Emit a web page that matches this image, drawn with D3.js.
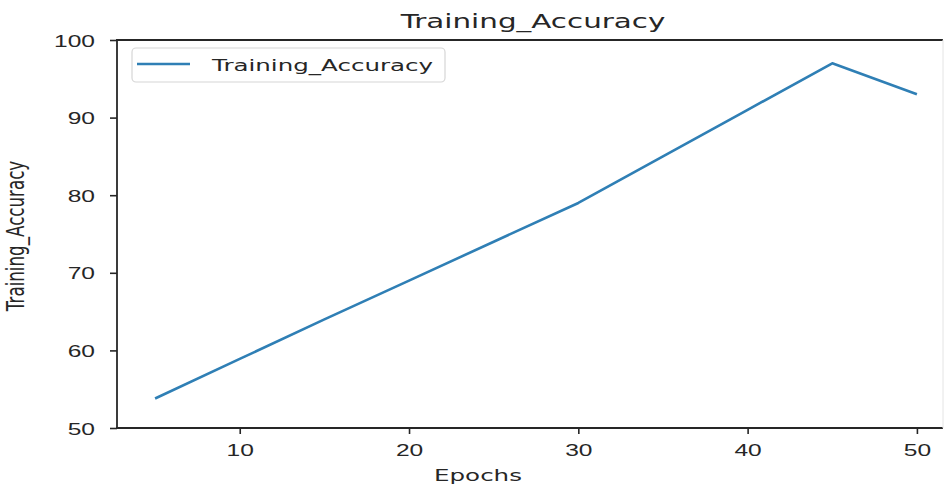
<!DOCTYPE html>
<html>
<head>
<meta charset="utf-8">
<script src="https://cdn.jsdelivr.net/npm/d3@7"></script>
<style>
  body { margin: 0; background: #fff; }
  svg { display: block; font-family: "DejaVu Sans", sans-serif; }
</style>
</head>
<body>
<svg id="chart" width="945" height="484"></svg>
<script>
// --- Data ---

const epochs = [5, 10, 15, 20, 25, 30, 35, 40, 45, 50];
const accuracy = [53.8, 58.9, 64.0, 69.0, 74.0, 79.0, 85.0, 91.0, 97.0, 93.0];
const xTicks = [10, 20, 30, 40, 50];
const yTicks = [50, 60, 70, 80, 90, 100];

// --- Layout ---

const SX = 1.47; // picture is stretched sideways
const TEXT = "#262626";
const LINE = "#2f7fb5";
const plotLeft = 117, plotRight = 955, plotTop = 40, plotBottom = 428;
const cutEdge = 942; // where the picture's right side was cropped

const svg = d3.select("#chart");

const x = d3.scaleLinear().domain([2.75, 52.25]).range([plotLeft, plotRight]);
const y = d3.scaleLinear().domain([50, 100]).range([plotBottom, plotTop]);

// --- Axes ---

const yAxis = svg.append("g")
  .attr("transform", `translate(${plotLeft},0)`)
  .call(d3.axisLeft(y).tickValues(yTicks).tickSize(7).tickPadding(0));
yAxis.select(".domain").remove();
yAxis.selectAll(".tick line").attr("stroke", TEXT).attr("stroke-width", 1.6);
yAxis.selectAll(".tick text")
  .attr("x", -22 / SX)
  .attr("dy", "0.36em")
  .attr("transform", `scale(${SX},1)`)
  .attr("font-size", 16.7)
  .attr("fill", TEXT);

const xAxis = svg.append("g")
  .attr("transform", `translate(0,${plotBottom})`)
  .call(d3.axisBottom(x).tickValues(xTicks).tickSize(6).tickPadding(0));
xAxis.select(".domain").remove();
xAxis.selectAll(".tick line").attr("stroke", TEXT).attr("stroke-width", 1.6);
xAxis.selectAll(".tick text")
  .attr("y", 28)
  .attr("dy", 0)
  .attr("transform", `scale(${SX},1)`)
  .attr("font-size", 16.7)
  .attr("fill", TEXT);

// spines: left, top, bottom run to the cropped edge
const spines = [
  [plotLeft, plotTop, plotLeft, plotBottom],
  [plotLeft, plotTop, cutEdge, plotTop],
  [plotLeft, plotBottom, cutEdge, plotBottom],
];
svg.append("g")
  .selectAll("line")
  .data(spines)
  .join("line")
  .attr("x1", (d) => d[0]).attr("y1", (d) => d[1])
  .attr("x2", (d) => d[2]).attr("y2", (d) => d[3])
  .attr("stroke", TEXT)
  .attr("stroke-width", 1.8)
  .attr("stroke-linecap", "square");

// faint edge left by the crop
svg.append("line")
  .attr("x1", cutEdge + 1).attr("x2", cutEdge + 1)
  .attr("y1", plotTop).attr("y2", plotBottom)
  .attr("stroke", "#e4e4e4")
  .attr("stroke-width", 1);

// --- Line ---

const line = d3.line()
  .x((d, i) => x(epochs[i]))
  .y((d) => y(d));

svg.append("path")
  .datum(accuracy)
  .attr("d", line)
  .attr("fill", "none")
  .attr("stroke", LINE)
  .attr("stroke-width", 2.6)
  .attr("stroke-linejoin", "round");

// --- Texts ---

svg.append("text")
  .attr("transform", `translate(533,28) scale(${SX},1)`)
  .attr("text-anchor", "middle")
  .attr("font-size", 20)
  .attr("fill", TEXT)
  .text("Training_Accuracy");

svg.append("text")
  .attr("transform", `translate(478,481) scale(${SX},1)`)
  .attr("text-anchor", "middle")
  .attr("font-size", 16.7)
  .attr("fill", TEXT)
  .text("Epochs");

svg.append("text")
  .attr("transform", `translate(24,236) scale(${SX},1) rotate(-90)`)
  .attr("text-anchor", "middle")
  .attr("font-size", 16.7)
  .attr("fill", TEXT)
  .text("Training_Accuracy");

// --- Legend ---

const legend = svg.append("g");
legend.append("rect")
  .attr("x", 132).attr("y", 48)
  .attr("width", 313).attr("height", 34)
  .attr("rx", 4)
  .attr("fill", "#fff")
  .attr("stroke", "#d6d6d6")
  .attr("stroke-width", 1.2);
legend.append("line")
  .attr("x1", 137).attr("x2", 190)
  .attr("y1", 64).attr("y2", 64)
  .attr("stroke", LINE)
  .attr("stroke-width", 2.6);
legend.append("text")
  .attr("transform", `translate(212,71) scale(${SX},1)`)
  .attr("font-size", 16.7)
  .attr("fill", TEXT)
  .text("Training_Accuracy");
</script>
</body>
</html>
